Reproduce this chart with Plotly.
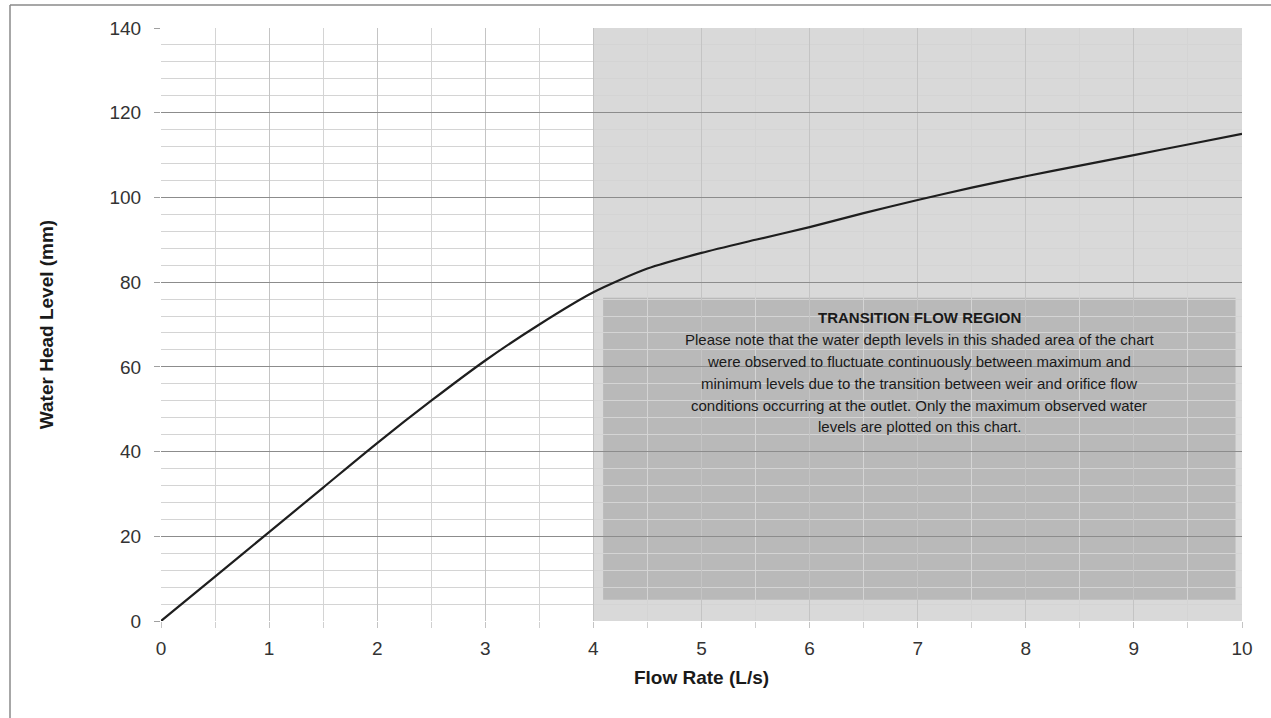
import plotly.graph_objects as go

flow_rate = [0, 0.5, 1, 1.5, 2, 2.5, 3, 3.5, 4, 4.5, 5, 5.5, 6, 6.5, 7, 7.5, 8, 8.5, 9, 9.5, 10]
head_level = [0, 10.5, 21, 31.5, 42, 52, 61.5, 70, 77.6, 83.2, 86.9, 90, 93, 96.3, 99.4, 102.3, 105, 107.5, 110, 112.5, 115]

region_x = [4, 10.05]
region_y = [-1.5, 140.3]
note_x = [4.09, 9.94]
note_y = [5, 76.3]

note_title = "TRANSITION FLOW REGION"
note_lines = [
    "Please note that the water depth levels in this shaded area of the chart",
    "were observed to fluctuate continuously between maximum and",
    "minimum levels due to the transition between weir and orifice flow",
    "conditions occurring at the outlet. Only the maximum observed water",
    "levels are plotted on this chart.",
]

W, H = 1271, 718
L, R, T, B = 161, 29, 28, 97
PW, PH = W - L - R, H - T - B

fig = go.Figure()
fig.add_trace(go.Scatter(
    x=flow_rate, y=head_level, mode="lines",
    line=dict(color="#1e1e1e", width=2.2, shape="spline", smoothing=0.7),
    hoverinfo="skip", showlegend=False,
))

fig.add_shape(type="rect", xref="x", yref="y",
              x0=region_x[0], x1=region_x[1], y0=region_y[0], y1=region_y[1],
              fillcolor="#d9d9d9", line=dict(width=0), layer="below")
fig.add_shape(type="rect", xref="x", yref="y",
              x0=note_x[0], x1=note_x[1], y0=note_y[0], y1=note_y[1],
              fillcolor="#b9b9b9", line=dict(width=0), layer="below")

all_lines = ["<b>" + note_title + "</b>"] + note_lines
for i, txt in enumerate(all_lines):
    fig.add_annotation(
        x=(note_x[0] + note_x[1]) / 2, y=note_y[1], xref="x", yref="y",
        text=txt, showarrow=False, xanchor="center", yanchor="middle",
        yshift=-20 - 21.8 * i,
        font=dict(family="Liberation Sans, Arial", size=15, color="#1a1a1a"),
    )

# outer frame lines (top and left)
top_y = (H - B - 5) / PH
left_x = (10 - L) / PW
fig.add_shape(type="line", xref="paper", yref="paper",
              x0=left_x, x1=(W - L) / PW, y0=top_y, y1=top_y,
              line=dict(color="#8a8a8a", width=1.5))
fig.add_shape(type="line", xref="paper", yref="paper",
              x0=left_x, x1=left_x, y0=top_y, y1=-B / PH,
              line=dict(color="#8a8a8a", width=1.5))

fig.update_layout(
    width=W, height=H,
    margin=dict(l=L, r=R, t=T, b=B),
    paper_bgcolor="white", plot_bgcolor="rgba(0,0,0,0)",
    font=dict(family="Liberation Sans, Arial", color="#333333"),
    xaxis=dict(
        range=[0, 10], dtick=1, tick0=0,
        showgrid=True, gridcolor="#c4c4c4", gridwidth=1,
        minor=dict(dtick=0.5, showgrid=True, gridcolor="#d4d4d4", gridwidth=1,
                   ticks="outside", ticklen=6, tickcolor="#d0d0d0"),
        zeroline=False, showline=False,
        ticks="outside", ticklen=6, tickcolor="#c4c4c4",
        ticklabelstandoff=4,
        tickfont=dict(size=19, color="#333333"),
        title=dict(text="<b>Flow Rate (L/s)</b>", font=dict(size=19, color="#1a1a1a"), standoff=12),
    ),
    yaxis=dict(
        range=[0, 140], dtick=20, tick0=0,
        showgrid=True, gridcolor="#8c8c8c", gridwidth=1.2,
        minor=dict(dtick=4, showgrid=True, gridcolor="#d4d4d4", gridwidth=1),
        zeroline=False, showline=False,
        ticks="outside", ticklen=6, tickcolor="#a0a0a0",
        ticklabelstandoff=9,
        tickfont=dict(size=19, color="#333333"),
        title=dict(text="<b>Water Head Level (mm)</b>", font=dict(size=19, color="#1a1a1a"), standoff=50),
    ),
)

fig.write_html("out.html", config={"displayModeBar": False},
               post_script="document.body.style.margin='0';document.body.style.overflow='hidden';")
